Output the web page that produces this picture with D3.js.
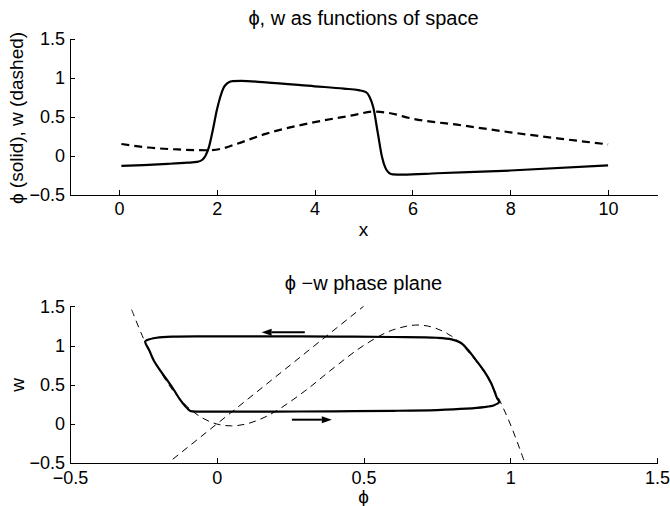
<!DOCTYPE html>
<html>
<head>
<meta charset="utf-8">
<script src="https://cdn.jsdelivr.net/npm/d3@7"></script>
<style>
	body { margin: 0; background: #fff; }
	svg { display: block; font-family: "Liberation Sans", Arial, Helvetica, sans-serif; }
	.axis path, .axis line { stroke: #000; shape-rendering: crispEdges; }
	.axis text { fill: #000; }
</style>
</head>
<body>
<svg id="fig" width="670" height="506"></svg>
<script>
// top plot: phi and w along x
var spaceX   = [0.05, 0.5, 1.0, 1.4, 1.6, 1.7, 1.77, 1.84, 1.92, 2.0, 2.07, 2.14, 2.22, 2.32, 2.5, 3.0, 4.0, 4.6, 4.9, 5.05, 5.12, 5.2, 5.29, 5.38, 5.45, 5.52, 5.6, 5.8, 6.5, 8.0, 10.0];
var phiSpace = [-0.13, -0.12, -0.105, -0.09, -0.08, -0.055, 0.0, 0.11, 0.33, 0.58, 0.75, 0.87, 0.93, 0.955, 0.96, 0.94, 0.89, 0.86, 0.84, 0.815, 0.76, 0.62, 0.30, -0.02, -0.16, -0.22, -0.24, -0.243, -0.225, -0.19, -0.125];
var wX       = [0.05, 0.6, 1.2, 1.8, 2.1, 2.4, 3.0, 4.0, 4.8, 5.2, 5.5, 6.0, 7.0, 8.0, 9.0, 10.0];
var wSpace   = [0.15, 0.105, 0.08, 0.07, 0.09, 0.15, 0.28, 0.43, 0.52, 0.565, 0.55, 0.475, 0.39, 0.30, 0.22, 0.145];
var topXTicks = [0, 2, 4, 6, 8, 10];
var topYTicks = [-0.5, 0, 0.5, 1, 1.5];

// bottom plot: phase plane
var cyclePhi = [-0.09, -0.06, 0.0, 0.2, 0.4, 0.6, 0.75, 0.85, 0.91, 0.945, 0.962, 0.955, 0.935, 0.91, 0.88, 0.855, 0.83, 0.80, 0.75, 0.6, 0.4, 0.2, 0.0, -0.15, -0.205, -0.237, -0.244, -0.23, -0.216, -0.194, -0.17, -0.147, -0.125, -0.107, -0.095];
var cycleW   = [0.165, 0.158, 0.157, 0.158, 0.162, 0.168, 0.178, 0.195, 0.215, 0.24, 0.28, 0.33, 0.52, 0.68, 0.83, 0.95, 1.04, 1.08, 1.10, 1.11, 1.115, 1.118, 1.118, 1.115, 1.10, 1.07, 1.05, 0.94, 0.82, 0.69, 0.565, 0.44, 0.31, 0.225, 0.18];
var cubicPhi = [-0.29, -0.25, -0.2, -0.15, -0.1, -0.05, 0.0, 0.05, 0.1, 0.15, 0.2, 0.3, 0.4, 0.5, 0.6, 0.7, 0.8, 0.9, 0.95, 1.0, 1.05];
var cubicW   = [1.459, 1.094, 0.72, 0.431, 0.22, 0.079, 0.0, -0.024, 0.0, 0.064, 0.16, 0.42, 0.72, 1.0, 1.2, 1.26, 1.12, 0.72, 0.404, 0.0, -0.499];
var linePhi  = [-0.15, 0.5];
var lineW    = [-0.45, 1.5];
var arrowPhi = [[0.30, 0.153], [0.256, 0.392]];
var arrowW   = [[1.17, 1.17], [0.055, 0.055]];
var botXTicks = [-0.5, 0, 0.5, 1, 1.5];
var botYTicks = [-0.5, 0, 0.5, 1, 1.5];

(function(){
	'use strict'
	var svg = d3.select("#fig");
	var left = 70, right = 657;
	var fmt = function(d){ return d3.format("")(d); };

	function zip(xs, ys){
		return xs.map(function(x, i){ return [x, ys[i]]; });
	}

	function drawAxes(g, x, y, xt, yt){
		g.append("g")
			.attr("class", "axis")
			.attr("transform", "translate(0," + y.range()[0] + ")")
			.call(d3.axisBottom(x).tickValues(xt).tickFormat(fmt)
				.tickSizeInner(-5).tickSizeOuter(0).tickPadding(8))
			.selectAll("text")
				.style("font-size", "18px");
		g.append("g")
			.attr("class", "axis")
			.attr("transform", "translate(" + x.range()[0] + ",0)")
			.call(d3.axisLeft(y).tickValues(yt).tickFormat(fmt)
				.tickSizeInner(-5).tickSizeOuter(0).tickPadding(5))
			.selectAll("text")
				.style("font-size", "18px");
	}

	// ---- top: phi, w vs x
	var x1 = d3.scaleLinear().domain([-1, 11]).range([left, right]);
	var y1 = d3.scaleLinear().domain([-0.5, 1.5]).range([194.7, 38.7]);
	var top = svg.append("g");
	drawAxes(top, x1, y1, topXTicks, topYTicks);

	var line1 = d3.line()
					.x(function(d){ return x1(d[0]); })
					.y(function(d){ return y1(d[1]); })
					.curve(d3.curveMonotoneX);
	top.append("path")
		.datum(zip(wX, wSpace))
		.attr("d", line1)
		.attr("fill", "none")
		.attr("stroke", "#000")
		.attr("stroke-width", 2.2)
		.attr("stroke-dasharray", "8,5");
	top.append("path")
		.datum(zip(spaceX, phiSpace))
		.attr("d", line1)
		.attr("fill", "none")
		.attr("stroke", "#000")
		.attr("stroke-width", 2.2);

	top.append("text")
		.attr("x", (left + right) / 2).attr("y", 25)
		.attr("text-anchor", "middle")
		.style("font-size", "20px")
		.text("ϕ, w as functions of space");
	top.append("text")
		.attr("x", (left + right) / 2).attr("y", 236)
		.attr("text-anchor", "middle")
		.style("font-size", "19px")
		.text("x");
	top.append("text")
		.attr("transform", "translate(23,118) rotate(-90)")
		.attr("text-anchor", "middle")
		.style("font-size", "19px")
		.text("ϕ (solid), w (dashed)");

	// ---- bottom: phase plane
	var x2 = d3.scaleLinear().domain([-0.5, 1.5]).range([left, right]);
	var y2 = d3.scaleLinear().domain([-0.5, 1.5]).range([463.2, 306.4]);
	var bot = svg.append("g");
	drawAxes(bot, x2, y2, botXTicks, botYTicks);

	var line2 = d3.line()
					.x(function(d){ return x2(d[0]); })
					.y(function(d){ return y2(d[1]); });
	bot.append("path")
		.datum(zip(linePhi, lineW))
		.attr("d", line2)
		.attr("fill", "none")
		.attr("stroke", "#000")
		.attr("stroke-width", 1)
		.attr("stroke-dasharray", "7,5");
	bot.append("path")
		.datum(zip(cubicPhi, cubicW))
		.attr("d", line2.curve(d3.curveCatmullRom.alpha(0.5)))
		.attr("fill", "none")
		.attr("stroke", "#000")
		.attr("stroke-width", 1)
		.attr("stroke-dasharray", "7,5");
	bot.append("path")
		.datum(zip(cyclePhi, cycleW))
		.attr("d", line2.curve(d3.curveCatmullRomClosed.alpha(0.5)))
		.attr("fill", "none")
		.attr("stroke", "#000")
		.attr("stroke-width", 2.2);

	// direction arrows
	arrowPhi.forEach(function(p, i){
		var ax = x2(p[0]), ay = y2(arrowW[i][0]),
			bx = x2(p[1]), by = y2(arrowW[i][1]);
		var dir = bx > ax ? 1 : -1, head = 10;
		bot.append("line")
			.attr("x1", ax).attr("y1", ay)
			.attr("x2", bx - dir * head).attr("y2", by)
			.attr("stroke", "#000")
			.attr("stroke-width", 2);
		bot.append("path")
			.attr("d", "M" + bx + "," + by + "L" + (bx - dir * head) + "," + (by - 3.5) +
						"L" + (bx - dir * head) + "," + (by + 3.5) + "Z")
			.attr("fill", "#000");
	});

	bot.append("text")
		.attr("x", (left + right) / 2).attr("y", 290)
		.attr("text-anchor", "middle")
		.style("font-size", "20px")
		.text("ϕ −w phase plane");
	bot.append("text")
		.attr("x", (left + right) / 2).attr("y", 503)
		.attr("text-anchor", "middle")
		.style("font-size", "19px")
		.text("ϕ");
	bot.append("text")
		.attr("transform", "translate(24,385) rotate(-90)")
		.attr("text-anchor", "middle")
		.style("font-size", "19px")
		.text("w");
})();
</script>
</body>
</html>
